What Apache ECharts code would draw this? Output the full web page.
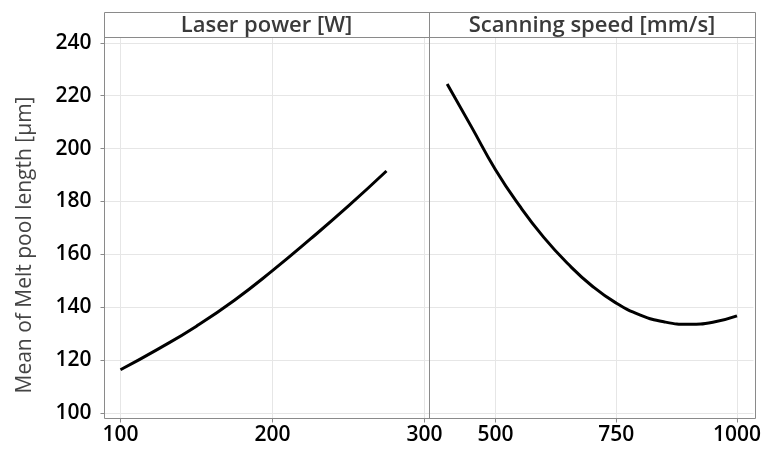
<!DOCTYPE html>
<html>
<head>
<meta charset="utf-8">
<script src="https://cdn.jsdelivr.net/npm/echarts@6/dist/echarts.min.js"></script>
<style>
  html, body { margin: 0; padding: 0; background: #fff; }
  #chart { width: 764px; height: 450px; }
</style>
</head>
<body>
<div id="chart"></div>
<script>
// Main-effects data: mean melt pool length against each process parameter
const powerW = [100, 125, 150, 175, 200, 225, 250, 275];
const lengthByPower = [116.3, 124.2, 132.8, 142.6, 153.8, 165.8, 178.3, 191.5];

const speedMmS = [400, 450, 500, 550, 600, 650, 700, 750, 800, 850, 900, 950, 1000];
const lengthBySpeed = [224.4, 208.3, 192.0, 178.3, 166.4, 156.4, 148.0, 141.5, 137.0, 134.4, 133.5, 134.3, 136.7];

const yTicks = [100, 120, 140, 160, 180, 200, 220, 240];
const powerTicks = [100, 200, 300];
const speedTicks = [500, 750, 1000];

const panelTitles = ['Laser power [W]', 'Scanning speed [mm/s]'];
const yTitle = 'Mean of Melt pool length [µm]';

// Layout (pixels)
const FONT = '"Open Sans", "Noto Sans", sans-serif';
const L = 104, MID = 429, R = 755;
const HEAD_TOP = 12, PLOT_TOP = 37, PLOT_BOTTOM = 418;
const FRAME = '#8a8a8a';
const GRID_LINE = '#e6e6e6';

const chart = echarts.init(document.getElementById('chart'), null, { renderer: 'canvas' });

const plainNumber = v => String(v);

function xAxisFor(gridIndex, min, max, ticks) {
  return {
    type: 'value', gridIndex, min, max,
    axisLine: { show: false },
    axisTick: { show: true, customValues: ticks, length: 4, lineStyle: { color: FRAME } },
    axisLabel: { customValues: ticks, color: '#000', fontSize: 21, fontWeight: 600,
                 fontFamily: FONT, margin: 6, formatter: plainNumber },
    splitLine: { show: true, lineStyle: { color: GRID_LINE, width: 1 } }
  };
}

function yAxisFor(gridIndex, showLabels) {
  return {
    type: 'value', gridIndex, min: 97.85, max: 242.03,
    axisLine: { show: false },
    axisTick: { show: showLabels, customValues: yTicks, length: 4, lineStyle: { color: FRAME } },
    axisLabel: { show: showLabels, customValues: yTicks, color: '#000', fontSize: 21, fontWeight: 600,
                 fontFamily: FONT, margin: 13, formatter: plainNumber },
    splitLine: { show: true, lineStyle: { color: GRID_LINE, width: 1 } }
  };
}

const lineStyle = { color: '#000', width: 3 };

// crisp 1px frame segments (half-pixel offsets)
function frameLine(x1, y1, x2, y2) {
  return { type: 'line', z: 10, silent: true,
           shape: { x1: x1 + 0.5, y1: y1 + 0.5, x2: x2 + 0.5, y2: y2 + 0.5 },
           style: { stroke: FRAME, lineWidth: 1 } };
}

chart.setOption({
  animation: false,
  backgroundColor: '#fff',
  grid: [
    { left: L + 0.5, top: PLOT_TOP + 0.5, width: MID - L, height: PLOT_BOTTOM - PLOT_TOP, show: false },
    { left: MID + 0.5, top: PLOT_TOP + 0.5, width: R - MID, height: PLOT_BOTTOM - PLOT_TOP, show: false }
  ],
  xAxis: [
    xAxisFor(0, 89.5, 303.3, powerTicks),
    xAxisFor(1, 363.4, 1034.2, speedTicks)
  ],
  yAxis: [
    yAxisFor(0, true),
    yAxisFor(1, false)
  ],
  series: [
    {
      type: 'line', xAxisIndex: 0, yAxisIndex: 0, smooth: true, showSymbol: false,
      lineStyle, data: powerW.map((p, i) => [p, lengthByPower[i]])
    },
    {
      type: 'line', xAxisIndex: 1, yAxisIndex: 1, smooth: true, showSymbol: false,
      lineStyle, data: speedMmS.map((s, i) => [s, lengthBySpeed[i]])
    }
  ],
  graphic: [
    // outer frame, header strip and panel divider
    frameLine(L, HEAD_TOP, R, HEAD_TOP),
    frameLine(L, PLOT_TOP, R, PLOT_TOP),
    frameLine(L, PLOT_BOTTOM, R, PLOT_BOTTOM),
    frameLine(L, HEAD_TOP, L, PLOT_BOTTOM),
    frameLine(R, HEAD_TOP, R, PLOT_BOTTOM),
    frameLine(MID, HEAD_TOP, MID, PLOT_BOTTOM),
    { type: 'text', z: 10, x: (L + MID) / 2, y: (HEAD_TOP + PLOT_TOP) / 2 + 1.5,
      style: { text: panelTitles[0], fill: '#3a3a3a', fontSize: 22, fontWeight: 600, fontFamily: FONT,
               align: 'center', verticalAlign: 'middle' } },
    { type: 'text', z: 10, x: (MID + R) / 2, y: (HEAD_TOP + PLOT_TOP) / 2 + 1.5,
      style: { text: panelTitles[1], fill: '#3a3a3a', fontSize: 22, fontWeight: 600, fontFamily: FONT,
               align: 'center', verticalAlign: 'middle' } },
    // shared y-axis title
    { type: 'text', x: 25, y: 245, rotation: Math.PI / 2,
      style: { text: yTitle, fill: '#444', fontSize: 21, fontFamily: FONT,
               align: 'center', verticalAlign: 'middle' } }
  ]
});
</script>
</body>
</html>
